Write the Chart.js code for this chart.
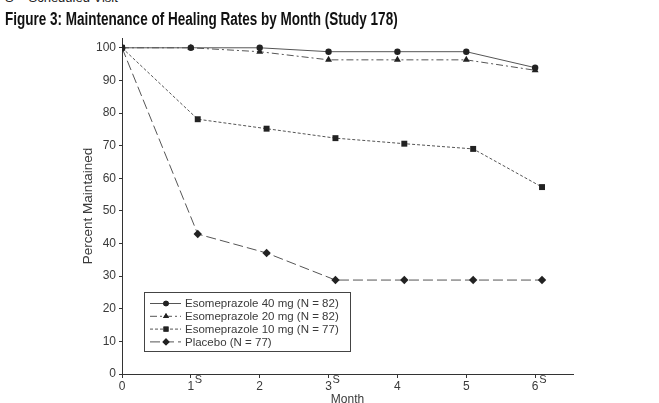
<!DOCTYPE html>
<html>
<head>
<meta charset="utf-8">
<script src="https://cdn.jsdelivr.net/npm/chart.js@4.4.1/dist/chart.umd.min.js"></script>
<style>
  body { margin: 0; background: #fff; }
  #wrap { position: relative; width: 659px; height: 403px; overflow: hidden; }
  #note { position: absolute; left: 5px; top: -10px; font: 13px "Liberation Sans", Arial, sans-serif; color: #222; }
  #title { position: absolute; left: 5px; top: 9px; font: bold 17.5px "Liberation Sans", Arial, sans-serif; color: #111; white-space: nowrap; z-index: 2; transform-origin: 0 0; }
  canvas { position: absolute; left: 0; top: 0; }
</style>
</head>
<body>
<div id="wrap">
  <div id="note">S = Scheduled Visit</div>
  <div id="title">Figure 3: Maintenance of Healing Rates by Month (Study 178)</div>
  <canvas id="chart" width="659" height="403"></canvas>
</div>
<script>
//Datos
const monthsA = [0, 1, 2, 3, 4, 5, 6];
const monthsB = [0, 1.1, 2.1, 3.1, 4.1, 5.1, 6.1];
const eso40 = [100, 100, 100, 98.8, 98.8, 98.8, 93.9];
const eso20 = [100, 100, 98.8, 96.3, 96.3, 96.3, 93.1];
const eso10 = [100, 78.1, 75.2, 72.3, 70.6, 69.0, 57.3];
const placebo = [100, 42.9, 37.1, 28.8, 28.8, 28.8, 28.8];
const seriesNames = ["Esomeprazole 40 mg (N = 82)", "Esomeprazole 20 mg (N = 82)", "Esomeprazole 10 mg (N = 77)", "Placebo (N = 77)"];
const yTicks = [0, 10, 20, 30, 40, 50, 60, 70, 80, 90, 100];
const xTicks = [0, 1, 2, 3, 4, 5, 6];
const scheduledMonths = [1, 3, 6];

const lineColor = "#555";
const markColor = "#222";
const textColor = "#3a3a3a";
const font = "'Liberation Sans', Arial, sans-serif";

//Título condensado al ancho del original
const titleEl = document.getElementById("title");
titleEl.style.transform = "scaleX(" + (393 / titleEl.offsetWidth) + ")";

function toPoints(xs, ys) {
    return xs.map((x, i) => ({ x: x, y: ys[i] }));
}

function makeSet(label, xs, ys, dash, style, radius) {
    return {
        label: label,
        data: toPoints(xs, ys),
        borderColor: lineColor,
        borderWidth: 1,
        borderDash: dash,
        pointStyle: style,
        pointRadius: radius,
        pointBackgroundColor: markColor,
        pointBorderColor: markColor,
        pointBorderWidth: 0,
        fill: false,
        tension: 0
    };
}

const datasets = [
    makeSet(seriesNames[0], monthsA, eso40, [], "circle", 3.2),
    makeSet(seriesNames[1], monthsA, eso20, [7, 3, 2, 3], "triangle", 4),
    makeSet(seriesNames[2], monthsB, eso10, [3, 2], "rect", 4.2),
    makeSet(seriesNames[3], monthsB, placebo, [10, 4], "rectRot", 4.2)
];

//Leyenda dibujada dentro del área
const boxLegend = {
    id: "boxLegend",
    afterDraw(chart) {
        const ctx = chart.ctx;
        const x0 = 144, y0 = 292, w = 206, h = 59;
        ctx.save();
        ctx.fillStyle = "#fff";
        ctx.fillRect(x0, y0, w, h);
        ctx.strokeStyle = "#444";
        ctx.lineWidth = 1;
        ctx.strokeRect(x0 + 0.5, y0 + 0.5, w, h);
        chart.data.datasets.forEach((ds, i) => {
            const y = y0 + 11.5 + i * 12.8;
            ctx.strokeStyle = lineColor;
            ctx.setLineDash(ds.borderDash);
            ctx.beginPath();
            ctx.moveTo(x0 + 6, y);
            ctx.lineTo(x0 + 37, y);
            ctx.stroke();
            ctx.setLineDash([]);
            ctx.fillStyle = markColor;
            Chart.helpers.drawPoint(ctx, { pointStyle: ds.pointStyle, radius: ds.pointRadius * 0.85, borderWidth: 0 }, x0 + 22, y);
            ctx.fill();
            ctx.fillStyle = textColor;
            ctx.font = "11.5px " + font;
            ctx.textBaseline = "middle";
            ctx.fillText(ds.label, x0 + 41, y + 0.5);
        });
        ctx.restore();
    }
};

//Superíndice S en visitas programadas
const superS = {
    id: "superS",
    afterDraw(chart) {
        const ctx = chart.ctx;
        const xs = chart.scales.x;
        ctx.save();
        ctx.fillStyle = textColor;
        ctx.font = "11px " + font;
        ctx.textBaseline = "middle";
        scheduledMonths.forEach(m => {
            ctx.fillText("S", xs.getPixelForValue(m) + 4, xs.top + 6);
        });
        ctx.restore();
    }
};

new Chart(document.getElementById("chart"), {
    type: "line",
    data: { datasets: datasets },
    plugins: [boxLegend, superS],
    options: {
        responsive: false,
        animation: false,
        layout: { padding: { left: 80, right: 86, top: 38, bottom: -4 } },
        plugins: { legend: { display: false }, tooltip: { enabled: false } },
        scales: {
            x: {
                type: "linear",
                min: 0,
                max: 6.55,
                afterBuildTicks: s => { s.ticks = xTicks.map(v => ({ value: v })); },
                afterFit: s => { s.height = 33; },
                ticks: { font: { family: font, size: 12 }, color: textColor, padding: 1 },
                grid: { drawOnChartArea: false, tickLength: 4, color: "#333" },
                border: { color: "#333", width: 1 },
                title: { display: true, text: "Month", font: { family: font, size: 12 }, color: textColor, padding: { top: 0, bottom: 0 } }
            },
            y: {
                min: 0,
                max: 103,
                afterBuildTicks: s => { s.ticks = yTicks.map(v => ({ value: v })); },
                afterFit: s => { s.width = 42; },
                ticks: { font: { family: font, size: 12 }, color: textColor, padding: 3 },
                grid: { drawOnChartArea: false, tickLength: 3, color: "#333" },
                border: { color: "#333", width: 1 },
                title: { display: true, text: "Percent Maintained", font: { family: font, size: 13.5 }, color: textColor, padding: { top: 0, bottom: 0 } }
            }
        }
    }
});
</script>
</body>
</html>
